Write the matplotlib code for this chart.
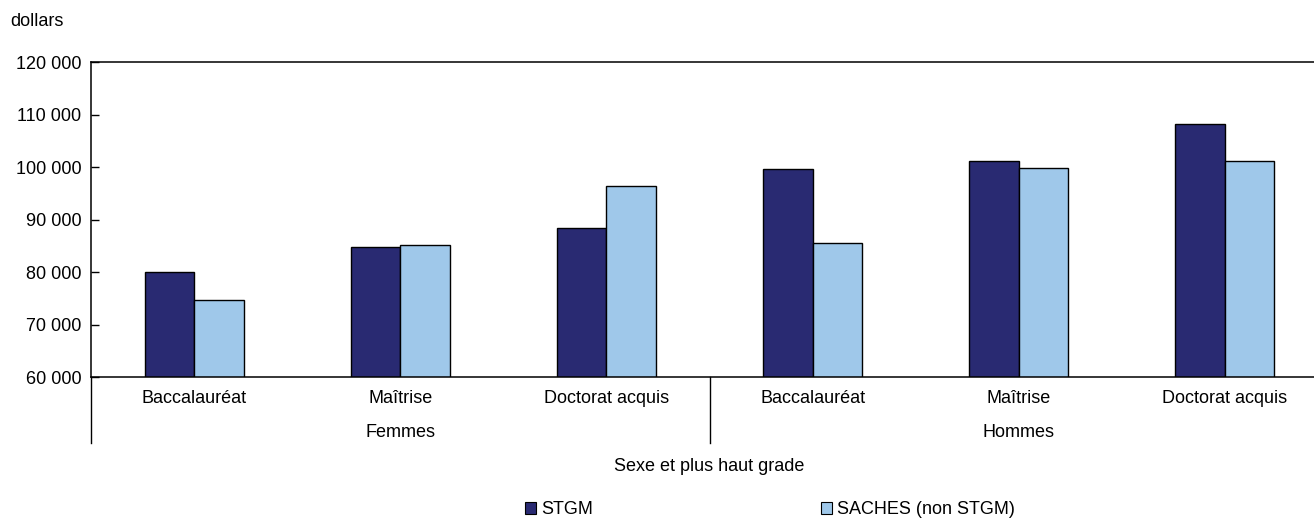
import numpy as np
import matplotlib.pyplot as plt
from matplotlib.lines import Line2D
from matplotlib.patches import Patch
from matplotlib.ticker import FuncFormatter

plt.rcParams['font.family'] = ['Liberation Sans Narrow', 'Liberation Sans', 'DejaVu Sans']

grades = ["Baccalauréat", "Maîtrise", "Doctorat acquis"] * 2
sexes = ["Femmes", "Hommes"]
stgm = [80000, 84800, 88400, 99700, 101100, 108100]
saches = [74700, 85200, 96400, 85500, 99900, 101100]

dark = "#292a72"
light = "#9fc8ea"
fs = 13

fig = plt.figure(figsize=(13.14, 5.19), dpi=100)
ax = fig.add_axes([0.0693, 0.2736, 0.9414, 0.6069])

x = np.arange(len(grades))
w = 0.24
ax.bar(x - w/2, stgm, w, color=dark, edgecolor="black", linewidth=1)
ax.bar(x + w/2, saches, w, color=light, edgecolor="black", linewidth=1)

ax.set_xlim(-0.5, 5.5)
ax.set_ylim(60000, 120000)
ax.set_yticks(range(60000, 120001, 10000))
ax.yaxis.set_major_formatter(FuncFormatter(lambda v, p: f"{int(v):,}".replace(",", " ")))
ax.tick_params(axis="y", direction="in", length=6, width=1, labelsize=fs, pad=7)
ax.set_xticks(x)
ax.set_xticklabels(grades)
ax.tick_params(axis="x", length=0, labelsize=fs, pad=9)
for s in ax.spines.values():
    s.set_linewidth(1.1)

# left axis extension and group separator below the plot
ax.add_line(Line2D([0, 0], [0, -0.21], transform=ax.transAxes, color="black", lw=1, clip_on=False))
ax.add_line(Line2D([2.5, 2.5], [0, -0.21], transform=ax.get_xaxis_transform(), color="black", lw=1, clip_on=False))
for i, s in enumerate(sexes):
    ax.text(1 + 3*i, -0.175, s, transform=ax.get_xaxis_transform(), ha="center", va="center", fontsize=fs)

ax.text(2.5, -0.285, "Sexe et plus haut grade", transform=ax.get_xaxis_transform(), ha="center", va="center", fontsize=fs)
fig.text(10/1314, 1 - 22/519, "dollars", ha="left", va="center", fontsize=fs)

handles = [Patch(facecolor=dark, edgecolor="black", lw=0.8), Patch(facecolor=light, edgecolor="black", lw=0.8)]
fig.legend(handles, ["STGM", "SACHES (non STGM)"], ncol=2, loc="center", bbox_to_anchor=(0.586, 1 - 510/519),
           frameon=False, fontsize=fs, handlelength=0.6, handleheight=0.6, handletextpad=0.3, columnspacing=12.6)

fig.savefig("out.png", dpi=100)
